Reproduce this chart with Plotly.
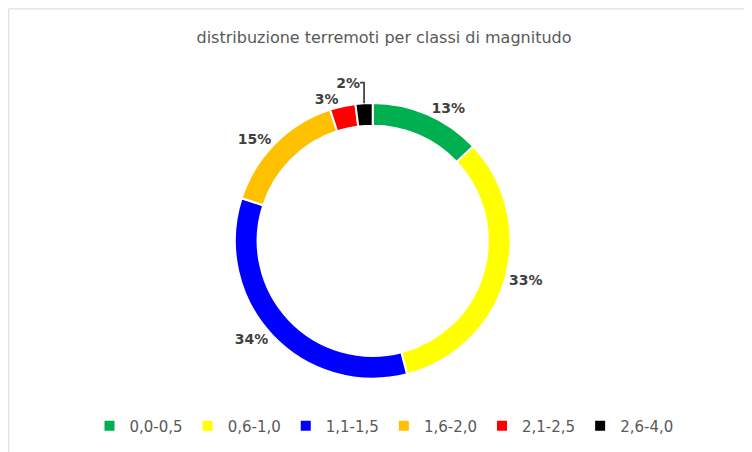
import plotly.graph_objects as go

categories = ["0,0-0,5", "0,6-1,0", "1,1-1,5", "1,6-2,0", "2,1-2,5", "2,6-4,0"]
values = [13, 33, 34, 15, 3, 2]
colors = ["#00B050", "#FFFF00", "#0000FF", "#FFC000", "#FF0000", "#000000"]

fig = go.Figure(go.Pie(
    labels=categories, values=values, sort=False, direction="clockwise", rotation=0,
    hole=0.835, marker=dict(colors=colors, line=dict(color="white", width=2)),
    texttemplate="<b>%{percent:.0%}</b>", textposition="outside",
    textfont=dict(family="DejaVu Sans", size=14, color="#404040"),
    domain=dict(x=[0.30, 0.67], y=[0.18, 0.79]),
))
fig.update_layout(
    width=752, height=452, margin=dict(l=0, r=0, t=0, b=0),
    paper_bgcolor="white", showlegend=True,
    title=dict(text="distribuzione terremoti per classi di magnitudo", x=0.5, y=0.935,
               xanchor="center", yanchor="middle",
               font=dict(family="DejaVu Sans", size=16, color="#595959")),
    legend=dict(orientation="h", x=0.5, xanchor="center", y=0.075, yanchor="middle",
                font=dict(family="DejaVu Sans", size=15, color="#595959")),
    shapes=[dict(type="rect", xref="paper", yref="paper", x0=0.001, y0=0.002, x1=0.999, y1=0.998,
                 line=dict(color="#D9D9D9", width=1))],
)
fig.write_html("out.html")
